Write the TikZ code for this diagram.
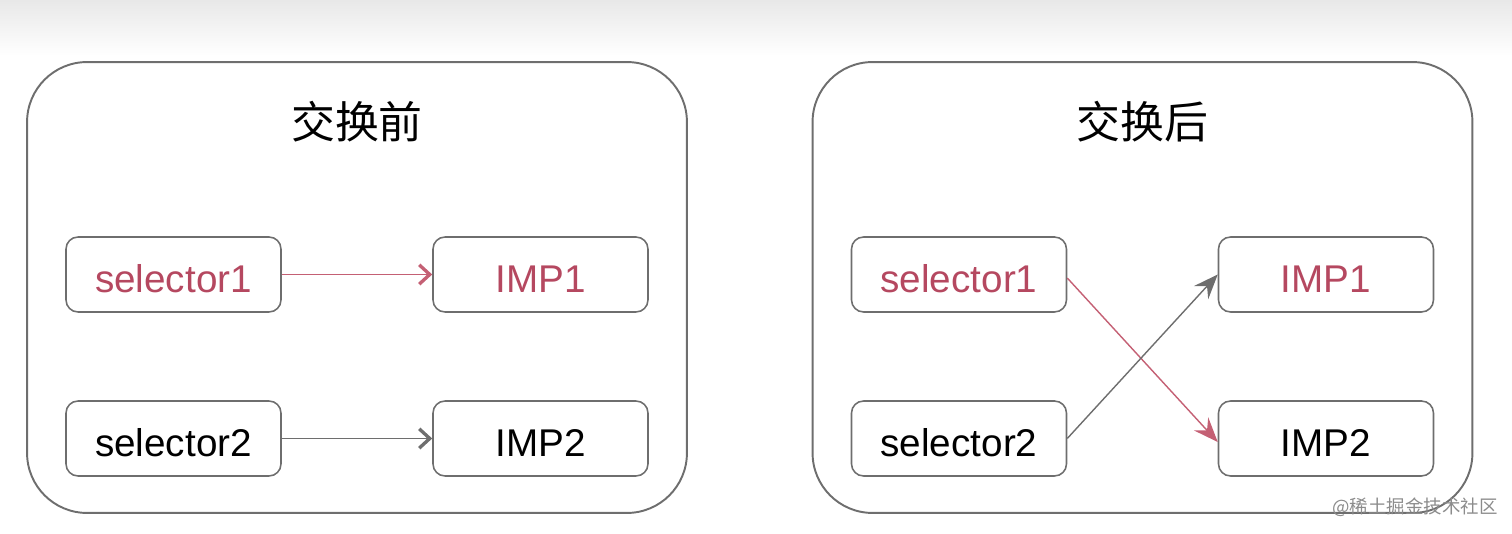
\documentclass[tikz,border=0pt]{standalone}
\usepackage{fontspec}
\setmainfont{Liberation Sans}
\newfontfamily\cjk{Noto Sans CJK SC}
\usetikzlibrary{arrows.meta}
\definecolor{selred}{RGB}{181,72,96}
\definecolor{linkred}{RGB}{196,96,116}
\definecolor{linegray}{RGB}{110,110,110}
\tikzset{
  panel/.style={draw=linegray,line width=1.1pt,rounded corners=1.2cm,minimum width=13.2cm,minimum height=9.02cm},
  cell/.style={draw=linegray,line width=0.9pt,rounded corners=0.24cm,minimum width=4.3cm,minimum height=1.5cm,font=\fontsize{22}{26}\selectfont,text height=0.72cm,text depth=0pt},
  title/.style={font=\cjk\fontsize{25}{30}\selectfont},
  barb/.style={line width=0.9pt,-{Straight Barb[length=6pt,width=11pt,line width=1.9pt]}},
  stealthy/.style={line width=0.8pt,-{Stealth[length=14pt,width=11pt,inset=5pt]}}
}
\begin{document}
\begin{tikzpicture}[x=0.02cm,y=0.02cm]
\useasboundingbox (0,0) rectangle (1512,534);
\shade[top color=black!9,bottom color=white] (0,534) rectangle (1512,478);
%
\foreach \p/\t/\dx in {a/交换前/0,b/交换后/785.5}{
\begin{scope}[shift={(\dx,0)}]
\node[panel] (\p-box) at (357,246.5) {};
\node[title] (\p-title) at (357,412) {\t};
\node[cell,text=selred] (\p-s1) at (173.5,259.5) {selector1};
\node[cell,text=selred] (\p-i1) at (540.5,259.5) {IMP1};
\node[cell] (\p-s2) at (173.5,95.5) {selector2};
\node[cell] (\p-i2) at (540.5,95.5) {IMP2};
\end{scope}
}
%
\draw[barb,linkred] (a-s1) -- (a-i1);
\draw[barb,linegray] (a-s2) -- (a-i2);
%
\draw[stealthy,linkred] ([yshift=-2pt]b-s1.east) -- ([yshift=-2pt]b-i2.west);
\draw[stealthy,linegray] (b-s2.east) -- (b-i1.west);
%
\node[font=\cjk\fontsize{10.5}{12}\selectfont,text=black!45] (mark) at (1415,27) {@稀土掘金技术社区};
\end{tikzpicture}
\end{document}
